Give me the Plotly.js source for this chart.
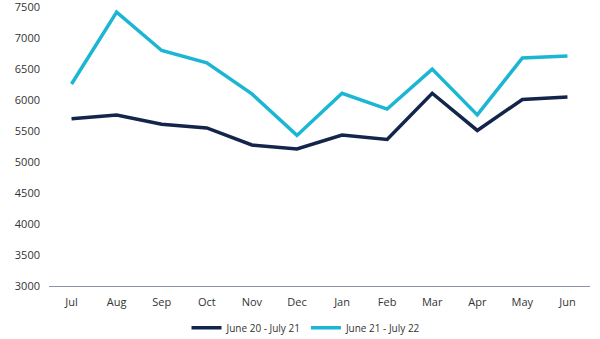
<!DOCTYPE html>
<html><head><meta charset="utf-8">
<script src="https://cdn.plot.ly/plotly-3.0.1.min.js"></script>
<style>html,body{margin:0;padding:0;background:#fff}#chart{width:600px;height:339px}</style>
</head><body><div id="chart"></div>
<script>
const months = ["Jul","Aug","Sep","Oct","Nov","Dec","Jan","Feb","Mar","Apr","May","Jun"];
const series1Name = "June 20 - July 21";
const series1 = [5700,5760,5610,5550,5275,5210,5435,5365,6110,5510,6010,6050];
const series2Name = "June 21 - July 22";
const series2 = [6260,7420,6800,6600,6100,5430,6110,5855,6500,5760,6680,6710];
const yTicks = [3000,3500,4000,4500,5000,5500,6000,6500,7000,7500];

const traces = [
  {x: months, y: series1, name: series1Name, type: "scatter", mode: "lines",
   line: {color: "#13254a", width: 3.5}},
  {x: months, y: series2, name: series2Name, type: "scatter", mode: "lines",
   line: {color: "#1bb6d3", width: 3.5}}
];
const layout = {
  width: 600, height: 339,
  margin: {l: 49, r: 10, t: 7, b: 53, autoexpand: false},
  paper_bgcolor: "#fff", plot_bgcolor: "#fff",
  font: {family: "'Open Sans', sans-serif", size: 11, color: "#333"},
  showlegend: true,
  legend: {orientation: "h", x: 0.476, xanchor: "center", y: -0.098, yanchor: "top",
           font: {size: 10, color: "#333"}, itemwidth: 30, tracegroupgap: 0},
  xaxis: {type: "category", range: [-0.5, 11.5], showgrid: false, zeroline: false, showline: true,
          linecolor: "#8a94a6", linewidth: 1, ticks: "", ticklabelstandoff: 6,
          automargin: false, tickfont: {size: 11, color: "#333"}},
  yaxis: {range: [3000, 7502], tickvals: yTicks, showgrid: false, zeroline: false,
          showline: false, ticks: "", ticklabelstandoff: 8, automargin: false,
          ticklabeloverflow: "allow", tickfont: {size: 11, color: "#333"}}
};
Plotly.newPlot("chart", traces, layout, {displayModeBar: false, staticPlot: true});
</script></body></html>
